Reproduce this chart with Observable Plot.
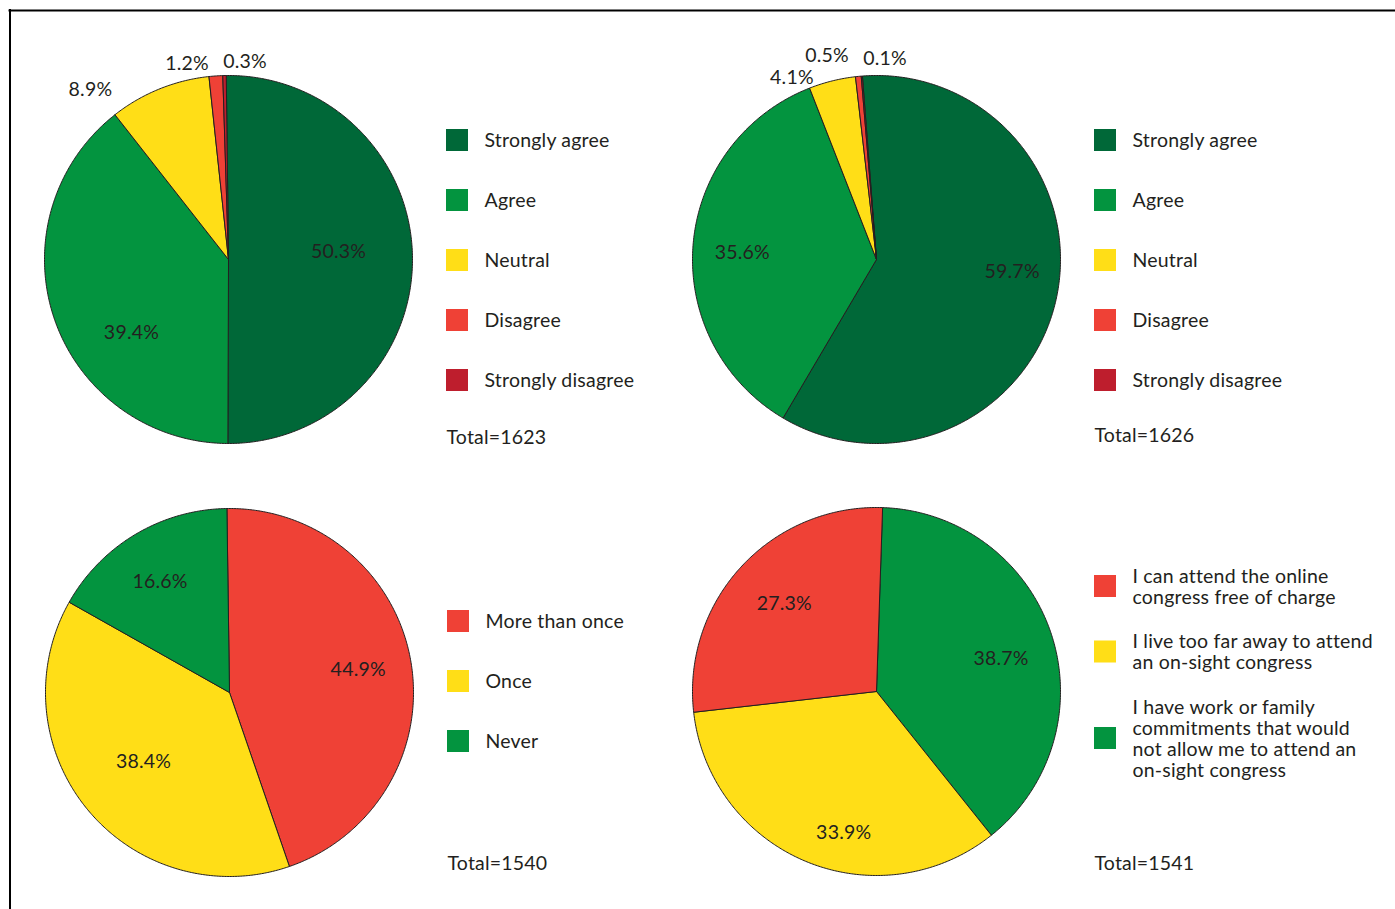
<!DOCTYPE html>
<html>
<head>
<meta charset="utf-8">
<script src="https://cdn.jsdelivr.net/npm/d3@7"></script>
<script src="https://cdn.jsdelivr.net/npm/@observablehq/plot@0.6"></script>
<style>
  html, body { margin: 0; padding: 0; background: #fff; }
</style>
</head>
<body>
<div id="chart"></div>
<script>
// ---------------- DATA ----------------
const agreementCategories = ["Strongly agree", "Agree", "Neutral", "Disagree", "Strongly disagree"];
const panelAValues = [50.3, 39.4, 8.9, 1.2, 0.3];
const panelATotal = 1623;
const panelBValues = [59.7, 35.6, 4.1, 0.5, 0.1];
const panelBTotal = 1626;

const attendanceCategories = ["More than once", "Once", "Never"];
const panelCValues = [44.9, 38.4, 16.6];
const panelCTotal = 1540;

const reasonCategories = [
  "I can attend the online\ncongress free of charge",
  "I live too far away to attend\nan on-sight congress",
  "I have work or family\ncommitments that would\nnot allow me to attend an\non-sight congress"
];
const panelDValues = [27.3, 33.9, 38.7];
const panelDTotal = 1541;

// ---------------- STYLE / LAYOUT ----------------
const W = 1395, H = 909;
const INK = "#231f20";
const FONT = "Lato, 'Open Sans', sans-serif";
const agreementColors = ["#006838", "#03943f", "#ffde17", "#ef4136", "#be1e2d"];
const attendanceColors = ["#ef4136", "#ffde17", "#03943f"];
const reasonColors = ["#ef4136", "#ffde17", "#03943f"];

// nudge / rad are indexed by category
const panels = [
  { cats: agreementCategories, values: panelAValues, colors: agreementColors, total: panelATotal,
    cx: 228, cy: 259, r: 184, rot: -0.7, order: [0, 1, 2, 3, 4],
    nudge: [-4, -18, -17, -8, 6], rad: [0.60, 0.66, 1.19, 1.09, 1.08],
    legendTop: 129.5, gap: 39, totalY: 437 },
  { cats: agreementCategories, values: panelBValues, colors: agreementColors, total: panelBTotal,
    cx: 876, cy: 259, r: 184, rot: -4.4, order: [0, 1, 2, 3, 4],
    nudge: [-8, -1.6, -11, -8, 7], rad: [0.74, 0.73, 1.09, 1.14, 1.09],
    legendTop: 129.5, gap: 39, totalY: 435 },
  { cats: attendanceCategories, values: panelCValues, colors: attendanceColors, total: panelCTotal,
    cx: 229, cy: 692, r: 184, rot: -0.8, order: [0, 1, 2],
    nudge: [0, 1, -1.4], rad: [0.71, 0.60, 0.71],
    legendTop: 610.5, gap: 39, totalY: 863 },
  { cats: reasonCategories, values: panelDValues, colors: reasonColors, total: panelDTotal,
    cx: 876, cy: 691, r: 184, rot: 1.9, order: [2, 1, 0],
    nudge: [0.7, -9.4, 3.5], rad: [0.69, 0.79, 0.70],
    legendTop: 565, gap: 23.5, totalY: 863 }
];

const LINE_H = 21;
const FS = 19.5;
const rad = (deg) => deg * Math.PI / 180;

// ---------------- BUILD MARK DATA ----------------
const slicePts = [];
const pctLabels = [];
const legendBoxes = [];
const legendTexts = [];
const totals = [];

panels.forEach((p, pi) => {
  const sum = d3.sum(p.values);
  let acc = 0;
  p.order.forEach((ci) => {
    const v = p.values[ci];
    const a0 = p.rot + acc / sum * 360;
    const a1 = p.rot + (acc + v) / sum * 360;
    acc += v;
    const key = `${pi}-${ci}`;
    const steps = Math.max(2, Math.ceil((a1 - a0) / 0.5));
    slicePts.push({ key, color: p.colors[ci], x: p.cx, y: p.cy });
    for (let s = 0; s <= steps; s++) {
      const a = rad(a0 + (a1 - a0) * s / steps);
      slicePts.push({ key, color: p.colors[ci], x: p.cx + p.r * Math.sin(a), y: p.cy - p.r * Math.cos(a) });
    }
    slicePts.push({ key, color: p.colors[ci], x: p.cx, y: p.cy });
    const mid = rad((a0 + a1) / 2 + p.nudge[ci]);
    const rr = p.r * p.rad[ci];
    pctLabels.push({ x: p.cx + rr * Math.sin(mid), y: p.cy - rr * Math.cos(mid), text: d3.format(".1f")(v) + "%" });
  });

  // legend
  let top = p.legendTop;
  p.cats.forEach((c, ci) => {
    const nLines = c.split("\n").length;
    const center = top + nLines * LINE_H / 2;
    legendBoxes.push({ x1: p.cx + 218, x2: p.cx + 240, y1: center - 11, y2: center + 11, color: p.colors[ci] });
    legendTexts.push({ x: p.cx + 256, y: center, text: c });
    top += nLines * LINE_H + p.gap;
  });
  totals.push({ x: p.cx + 218, y: p.totalY, text: "Total=" + p.total });
});

// ---------------- PLOT ----------------
const chart = Plot.plot({
  width: W,
  height: H,
  margin: 0,
  x: { domain: [0, W], range: [0, W], axis: null },
  y: { domain: [0, H], range: [0, H], axis: null },
  color: { type: "identity" },
  style: { fontFamily: FONT, background: "#fff", overflow: "visible", letterSpacing: "0.2px" },
  marks: [
    Plot.line(slicePts, { x: "x", y: "y", z: "key", fill: "color", stroke: INK, strokeWidth: 1, curve: "linear", strokeLinejoin: "round" }),
    Plot.text(pctLabels, { x: "x", y: "y", text: "text", fontSize: FS, fill: INK, fontFamily: FONT }),
    Plot.rect(legendBoxes, { x1: "x1", x2: "x2", y1: "y1", y2: "y2", fill: "color" }),
    Plot.text(legendTexts, { x: "x", y: "y", text: "text", textAnchor: "start", fontSize: FS, lineHeight: LINE_H / FS, fill: INK, fontFamily: FONT }),
    Plot.text(totals, { x: "x", y: "y", text: "text", textAnchor: "start", fontSize: FS, fill: INK, fontFamily: FONT }),
    Plot.ruleY([10], { x1: 8.5, x2: W, stroke: "#000", strokeWidth: 2 }),
    Plot.ruleX([9.5], { y1: 9, y2: H, stroke: "#000", strokeWidth: 2 })
  ]
});
document.getElementById("chart").appendChild(chart);
</script>
</body>
</html>
